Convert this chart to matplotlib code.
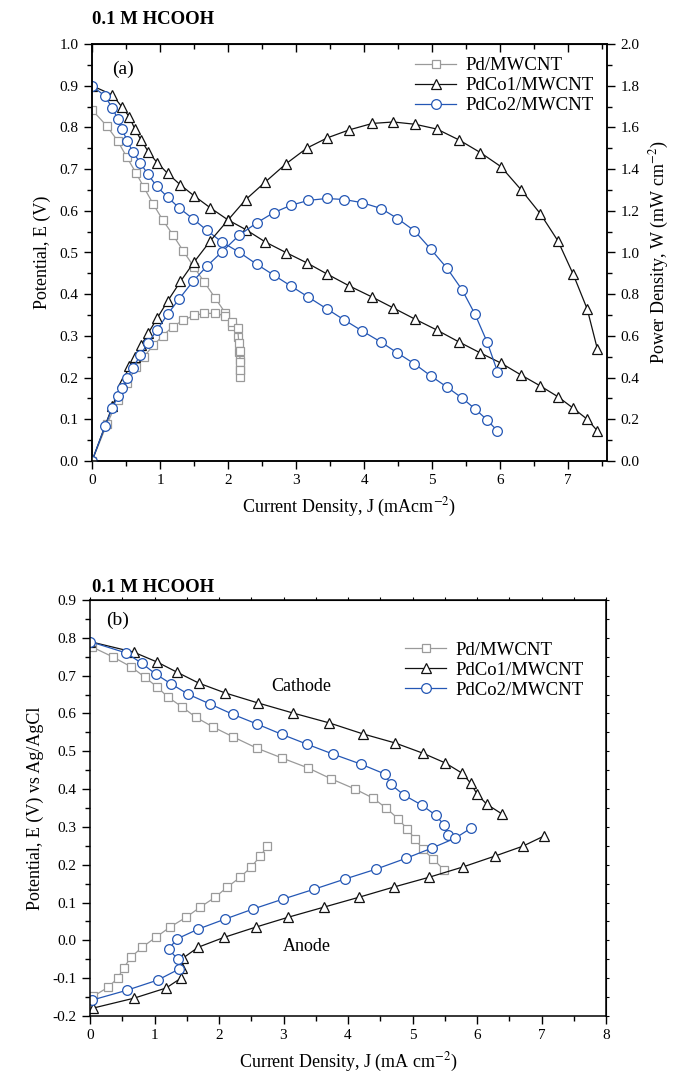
import numpy as np
import matplotlib
matplotlib.use("Agg")
import matplotlib.pyplot as plt
from matplotlib.ticker import MultipleLocator, FormatStrFormatter, NullFormatter

plt.rcParams['font.family'] = ['Liberation Serif', 'DejaVu Serif']
plt.rcParams['axes.unicode_minus'] = False
plt.rcParams['mathtext.fontset'] = 'stix'

# ---- panel (a): polarisation + power density ----
pd_j = [0.0, 0.22, 0.38, 0.51, 0.65, 0.76, 0.90, 1.04, 1.19, 1.34, 1.50, 1.65, 1.81, 1.96, 2.06, 2.14, 2.16, 2.18, 2.17, 2.17]
pd_e = [0.842, 0.803, 0.767, 0.729, 0.690, 0.657, 0.616, 0.578, 0.542, 0.504, 0.465, 0.429, 0.391, 0.355, 0.324, 0.297, 0.261, 0.242, 0.218, 0.201]
pd_w = [0.0, 0.177, 0.291, 0.372, 0.449, 0.499, 0.554, 0.601, 0.645, 0.675, 0.698, 0.708, 0.708, 0.696, 0.667, 0.636, 0.564, 0.528, 0.473, 0.436]

co1_j = [0.0, 0.30, 0.44, 0.55, 0.63, 0.72, 0.83, 0.96, 1.11, 1.30, 1.50, 1.74, 2.00, 2.26, 2.55, 2.85, 3.16, 3.46, 3.78, 4.12, 4.43, 4.75, 5.07, 5.40, 5.71, 6.01, 6.31, 6.59, 6.85, 7.07, 7.28, 7.43]
co1_e = [0.900, 0.878, 0.849, 0.825, 0.796, 0.770, 0.741, 0.715, 0.690, 0.662, 0.636, 0.607, 0.578, 0.555, 0.525, 0.500, 0.475, 0.448, 0.420, 0.393, 0.367, 0.340, 0.314, 0.285, 0.259, 0.235, 0.206, 0.180, 0.154, 0.127, 0.100, 0.072]
co1_w = [0.0, 0.263, 0.374, 0.454, 0.501, 0.554, 0.615, 0.686, 0.766, 0.861, 0.954, 1.056, 1.156, 1.254, 1.339, 1.425, 1.501, 1.550, 1.588, 1.619, 1.626, 1.615, 1.592, 1.539, 1.479, 1.412, 1.300, 1.186, 1.055, 0.898, 0.728, 0.535]

co2_j = [0.0, 0.19, 0.30, 0.38, 0.44, 0.52, 0.60, 0.71, 0.82, 0.95, 1.11, 1.28, 1.49, 1.69, 1.91, 2.16, 2.42, 2.67, 2.92, 3.18, 3.45, 3.71, 3.97, 4.25, 4.49, 4.74, 4.98, 5.22, 5.44, 5.63, 5.81, 5.96]
co2_e = [0.900, 0.875, 0.846, 0.820, 0.796, 0.767, 0.741, 0.715, 0.688, 0.659, 0.633, 0.607, 0.580, 0.553, 0.525, 0.501, 0.472, 0.446, 0.420, 0.393, 0.365, 0.338, 0.312, 0.285, 0.259, 0.233, 0.204, 0.177, 0.151, 0.125, 0.098, 0.072]
co2_w = [0.0, 0.166, 0.254, 0.312, 0.350, 0.399, 0.445, 0.508, 0.564, 0.626, 0.703, 0.777, 0.864, 0.935, 1.003, 1.082, 1.142, 1.191, 1.226, 1.250, 1.259, 1.254, 1.239, 1.211, 1.163, 1.104, 1.016, 0.924, 0.821, 0.704, 0.569, 0.429]

# ---- panel (b): cathode / anode polarisation ----
pdc_j = [0.03, 0.36, 0.64, 0.85, 1.04, 1.21, 1.43, 1.64, 1.91, 2.22, 2.59, 2.98, 3.38, 3.74, 4.11, 4.39, 4.59, 4.78, 4.92, 5.04, 5.16, 5.32, 5.49]
pdc_e = [0.776, 0.749, 0.723, 0.696, 0.670, 0.643, 0.617, 0.590, 0.564, 0.538, 0.508, 0.482, 0.456, 0.427, 0.400, 0.376, 0.350, 0.321, 0.294, 0.268, 0.241, 0.215, 0.186]
pda_j = [0.05, 0.28, 0.43, 0.52, 0.64, 0.81, 1.02, 1.24, 1.49, 1.71, 1.94, 2.13, 2.33, 2.50, 2.64, 2.75]
pda_e = [-0.148, -0.124, -0.100, -0.073, -0.044, -0.018, 0.008, 0.035, 0.061, 0.088, 0.114, 0.141, 0.167, 0.194, 0.223, 0.249]

c1c_j = [0.0, 0.68, 1.04, 1.35, 1.69, 2.10, 2.60, 3.15, 3.71, 4.23, 4.73, 5.16, 5.51, 5.77, 5.90, 6.00, 6.15, 6.39]
c1c_e = [0.790, 0.762, 0.736, 0.709, 0.680, 0.654, 0.628, 0.601, 0.575, 0.546, 0.522, 0.495, 0.469, 0.442, 0.416, 0.387, 0.360, 0.334]
c1a_j = [0.05, 0.68, 1.18, 1.41, 1.43, 1.44, 1.68, 2.08, 2.57, 3.07, 3.63, 4.17, 4.71, 5.26, 5.78, 6.28, 6.71, 7.04]
c1a_e = [-0.179, -0.153, -0.126, -0.100, -0.073, -0.047, -0.018, 0.008, 0.035, 0.061, 0.088, 0.114, 0.141, 0.167, 0.194, 0.223, 0.249, 0.276]

c2c_j = [0.0, 0.56, 0.80, 1.02, 1.26, 1.52, 1.86, 2.21, 2.59, 2.97, 3.36, 3.76, 4.20, 4.57, 4.66, 4.87, 5.14, 5.36, 5.49, 5.55]
c2c_e = [0.790, 0.760, 0.733, 0.704, 0.678, 0.651, 0.625, 0.598, 0.572, 0.545, 0.519, 0.493, 0.466, 0.440, 0.413, 0.384, 0.358, 0.331, 0.305, 0.278]
c2a_j = [0.03, 0.57, 1.05, 1.38, 1.36, 1.22, 1.35, 1.68, 2.09, 2.53, 2.99, 3.47, 3.95, 4.43, 4.90, 5.30, 5.66, 5.91]
c2a_e = [-0.158, -0.132, -0.105, -0.076, -0.050, -0.023, 0.004, 0.030, 0.056, 0.083, 0.109, 0.135, 0.162, 0.188, 0.217, 0.244, 0.270, 0.297]

labels = ["Pd/MWCNT", "PdCo1/MWCNT", "PdCo2/MWCNT"]

grey, black, blue = "#9a9a9a", "#111111", "#2457b5"
styles = [dict(color=grey, marker="s", ms=6),
          dict(color=black, marker="^", ms=7.5),
          dict(color=blue, marker="o", ms=7)]
common = dict(lw=0.9, mfc="white", mew=0.9)


def style_axis(ax):
    ax.tick_params(axis="both", which="both", direction="out", labelsize=11, width=1)
    ax.tick_params(which="major", length=6)
    ax.tick_params(which="minor", length=3.5)
    for s in ax.spines.values():
        s.set_linewidth(1.1)


fig = plt.figure(figsize=(6.74, 10.8), dpi=100)

# ----- (a) -----
ax1 = fig.add_axes([92/674, 1-461/1080, 515/674, 417/1080])
ax2 = ax1.twinx()
series_a = [(pd_j, pd_e, pd_w), (co1_j, co1_e, co1_w), (co2_j, co2_e, co2_w)]
for (j, e, w), st, lab in zip(series_a, styles, labels):
    ax1.plot(j, e, label=lab, **st, **common)
    ax2.plot(j, w, **st, **common)
ax1.set_xlim(0, 7.57)
ax1.set_ylim(0, 1.0)
ax2.set_ylim(0, 2.0)
ax1.xaxis.set_major_locator(MultipleLocator(1))
ax1.xaxis.set_minor_locator(MultipleLocator(0.5))
ax1.yaxis.set_major_locator(MultipleLocator(0.1))
ax1.yaxis.set_minor_locator(MultipleLocator(0.05))
ax1.yaxis.set_major_formatter(FormatStrFormatter("%.1f"))
ax2.yaxis.set_major_locator(MultipleLocator(0.2))
ax2.yaxis.set_minor_locator(MultipleLocator(0.1))
ax2.yaxis.set_major_formatter(FormatStrFormatter("%.1f"))
style_axis(ax1)
style_axis(ax2)
top1 = ax1.secondary_xaxis("top")
top1.xaxis.set_major_locator(MultipleLocator(1))
top1.xaxis.set_minor_locator(MultipleLocator(0.5))
top1.xaxis.set_major_formatter(NullFormatter())
top1.tick_params(which="both", direction="in", width=1)
top1.tick_params(which="major", length=6)
top1.tick_params(which="minor", length=3.5)
ax1.set_xlabel("Current Density, J (mAcm$^{-2}$)", fontsize=13, labelpad=6)
ax1.set_ylabel("Potential, E (V)", fontsize=13, labelpad=6)
ax2.set_ylabel("Power Density, W (mW cm$^{-2}$)", fontsize=13, labelpad=6)
ax1.text(0.46, 0.94, "(a)", fontsize=14, ha="center", va="center")
ax1.legend(loc="upper right", bbox_to_anchor=(1.0, 1.0), frameon=False, fontsize=13.5,
           handlelength=2.2, handletextpad=0.5, labelspacing=0.15, borderaxespad=0.3)
fig.text(92/674, 1-20/1080, "0.1 M HCOOH", fontsize=13.5, fontweight="bold", ha="left", va="center")

# ----- (b) -----
ax3 = fig.add_axes([90/674, 1-1016/1080, 516/674, 416/1080])
series_b = [(pdc_j, pdc_e, pda_j, pda_e), (c1c_j, c1c_e, c1a_j, c1a_e), (c2c_j, c2c_e, c2a_j, c2a_e)]
for (jc, ec, ja, ea), st, lab in zip(series_b, styles, labels):
    ax3.plot(jc, ec, label=lab, **st, **common)
    ax3.plot(ja, ea, **st, **common)
ax3.set_xlim(0, 8)
ax3.set_ylim(-0.2, 0.9)
ax3.xaxis.set_major_locator(MultipleLocator(1))
ax3.xaxis.set_minor_locator(MultipleLocator(0.5))
ax3.yaxis.set_major_locator(MultipleLocator(0.1))
ax3.yaxis.set_minor_locator(MultipleLocator(0.05))
ax3.yaxis.set_major_formatter(FormatStrFormatter("%.1f"))
style_axis(ax3)
top3 = ax3.secondary_xaxis("top")
top3.xaxis.set_major_locator(MultipleLocator(0.5))
top3.xaxis.set_major_formatter(NullFormatter())
top3.tick_params(direction="out", length=2.5, width=0.8)
right3 = ax3.secondary_yaxis("right")
right3.yaxis.set_major_locator(MultipleLocator(0.05))
right3.yaxis.set_major_formatter(NullFormatter())
right3.tick_params(direction="out", length=2.5, width=0.8)
ax3.set_xlabel("Current Density, J (mA cm$^{-2}$)", fontsize=13, labelpad=6)
ax3.set_ylabel("Potential, E (V) vs Ag/AgCl", fontsize=13, labelpad=6)
ax3.text(0.43, 0.845, "(b)", fontsize=14, ha="center", va="center")
ax3.text(3.27, 0.672, "Cathode", fontsize=13, ha="center", va="center")
ax3.text(3.36, -0.015, "Anode", fontsize=13, ha="center", va="center")
ax3.legend(loc="upper right", bbox_to_anchor=(0.99, 0.94), frameon=False, fontsize=13.5,
           handlelength=2.2, handletextpad=0.5, labelspacing=0.15)
fig.text(92/674, 1-587/1080, "0.1 M HCOOH", fontsize=13.5, fontweight="bold", ha="left", va="center")

fig.savefig("out.png", dpi=100)
